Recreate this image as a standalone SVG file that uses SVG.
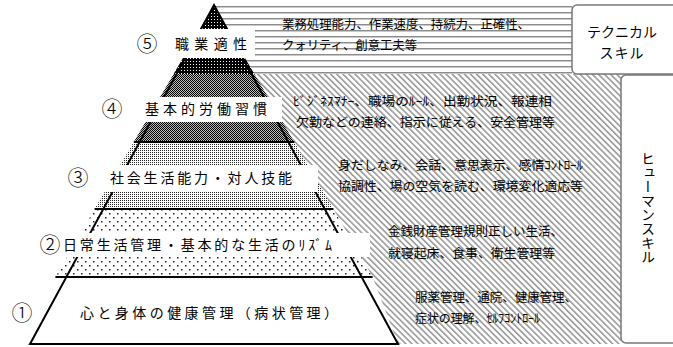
<svg xmlns="http://www.w3.org/2000/svg" width="673" height="347" viewBox="0 0 673 347">
<defs>
<pattern id="hstripe" width="6" height="6" patternUnits="userSpaceOnUse"><rect x="0" y="0" width="6" height="1" fill="#8c8c8c"/><rect x="0" y="1" width="6" height="1" fill="#c8c8c8"/></pattern>
<pattern id="hatch" width="4.3" height="8" patternUnits="userSpaceOnUse" patternTransform="rotate(-45)"><rect x="0" y="0" width="1.6" height="8" fill="#9a9a9a"/></pattern>
<pattern id="p5" width="3" height="3" patternUnits="userSpaceOnUse"><rect width="3" height="3" fill="#000"/><rect x="1" y="1" width="1" height="1" fill="#fff"/></pattern>
<pattern id="p4" width="2" height="2" patternUnits="userSpaceOnUse"><rect width="2" height="2" fill="#bbb"/><rect x="0" y="0" width="1" height="1" fill="#000"/><rect x="1" y="1" width="1" height="1" fill="#000"/></pattern>
<pattern id="p3" width="2" height="2" patternUnits="userSpaceOnUse"><rect width="2" height="2" fill="#fff"/><rect x="0" y="0" width="1" height="1" fill="#222"/></pattern>
<pattern id="p2" width="8" height="8" patternUnits="userSpaceOnUse"><rect width="8" height="8" fill="#fff"/><rect x="1" y="1" width="1.5" height="1.5" fill="#222"/><rect x="5" y="5" width="1.5" height="1.5" fill="#222"/></pattern>
</defs>
<style>
.lbl{font-family:"Noto Sans CJK JP","Noto Sans",sans-serif;font-size:14px;fill:#000}
.num{font-family:"Noto Sans CJK JP","DejaVu Sans",sans-serif;font-size:21px;font-weight:300;fill:#000}
.txt{font-family:"Noto Sans CJK JP","Noto Sans",sans-serif;font-size:12.5px;fill:#000}
.box{fill:#fff;stroke:#777;stroke-width:1.5}
.lb{fill:#fff}
.edge{stroke:#000;stroke-width:2;fill:none}
</style>
<g id="background">
<rect x="214" y="5" width="358" height="69" fill="url(#hstripe)"/>
<rect x="214" y="74" width="407" height="270" fill="url(#hatch)"/>
</g>
<g id="pyramid">
<g id="layer5"><polygon points="214,5 254.4,74 173.6,74" fill="url(#p5)"/></g>
<g id="layer4"><polygon points="173.6,74 254.4,74 294.2,142 133.8,142" fill="url(#p4)"/></g>
<g id="layer3"><polygon points="133.8,142 294.2,142 333.4,209 94.6,209" fill="url(#p3)"/></g>
<g id="layer2"><polygon points="94.6,209 333.4,209 372.6,277 55.4,277" fill="url(#p2)"/></g>
<g id="layer1"><polygon points="55.4,277 372.6,277 398,344 30,344" fill="#fff"/></g>
<polygon class="edge" points="214,5 398,344 30,344"/>
<line class="edge" x1="133.8" y1="142" x2="294.2" y2="142"/>
<line class="edge" x1="94.6" y1="209" x2="333.4" y2="209"/>
<line class="edge" x1="55.4" y1="277" x2="372.6" y2="277"/>
</g>
<g id="level5">
<rect class="lb" x="164" y="29" width="91" height="29"/>
<text class="num" x="147" y="51" text-anchor="middle">⑤</text>
<text class="lbl" x="175" y="49" textLength="72" lengthAdjust="spacing">職業適性</text>
<text class="txt" x="282" y="29" textLength="248" lengthAdjust="spacingAndGlyphs">業務処理能力、作業速度、持続力、正確性、</text>
<text class="txt" x="282" y="50" textLength="135" lengthAdjust="spacingAndGlyphs">クォリティ、創意工夫等</text>
</g>
<g id="level4">
<rect class="lb" x="138" y="97" width="144" height="25"/>
<text class="num" x="112" y="116" text-anchor="middle">④</text>
<text class="lbl" x="145" y="114" textLength="122" lengthAdjust="spacing">基本的労働習慣</text>
<text class="txt" x="293" y="106" textLength="259" lengthAdjust="spacingAndGlyphs">ﾋﾞｼﾞﾈｽﾏﾅｰ、職場のﾙｰﾙ、出勤状況、報連相</text>
<text class="txt" x="296" y="127" textLength="259" lengthAdjust="spacingAndGlyphs">欠勤などの連絡、指示に従える、安全管理等</text>
</g>
<g id="level3">
<rect class="lb" x="100" y="165" width="218" height="27"/>
<text class="num" x="78" y="185" text-anchor="middle">③</text>
<text class="lbl" x="110" y="183" textLength="182" lengthAdjust="spacing">社会生活能力・対人技能</text>
<text class="txt" x="338" y="170" textLength="245" lengthAdjust="spacingAndGlyphs">身だしなみ、会話、意思表示、感情ｺﾝﾄﾛｰﾙ</text>
<text class="txt" x="338" y="191" textLength="245" lengthAdjust="spacingAndGlyphs">協調性、場の空気を読む、環境変化適応等</text>
</g>
<g id="level2">
<rect class="lb" x="60" y="233" width="310" height="24"/>
<text class="num" x="50" y="252" text-anchor="middle">②</text>
<text class="lbl" x="63" y="250" textLength="269" lengthAdjust="spacing">日常生活管理・基本的な生活のﾘｽﾞﾑ</text>
<text class="txt" x="388" y="236" textLength="175" lengthAdjust="spacingAndGlyphs">金銭財産管理規則正しい生活、</text>
<text class="txt" x="388" y="258" textLength="167" lengthAdjust="spacingAndGlyphs">就寝起床、食事、衛生管理等</text>
</g>
<g id="level1">
<text class="num" x="22" y="320" text-anchor="middle">①</text>
<text class="lbl" x="80" y="318" textLength="258" lengthAdjust="spacing">心と身体の健康管理（病状管理）</text>
<text class="txt" x="415" y="302" textLength="162" lengthAdjust="spacingAndGlyphs">服薬管理、通院、健康管理、</text>
<text class="txt" x="415" y="323" textLength="125" lengthAdjust="spacingAndGlyphs">症状の理解、ｾﾙﾌｺﾝﾄﾛｰﾙ</text>
</g>
<g id="technical">
<rect class="box" x="572" y="5" width="120" height="69" rx="5"/>
<text class="lbl" x="622" y="37" text-anchor="middle">テクニカル</text>
<text class="lbl" x="622" y="58" text-anchor="middle" letter-spacing="1">スキル</text>
</g>
<g id="human">
<rect class="box" x="621" y="75" width="70" height="268" rx="5"/>
<text class="lbl" x="648" y="208" text-anchor="middle" writing-mode="vertical-rl" style="writing-mode:vertical-rl">ヒューマンスキル</text>
</g>
</svg>
